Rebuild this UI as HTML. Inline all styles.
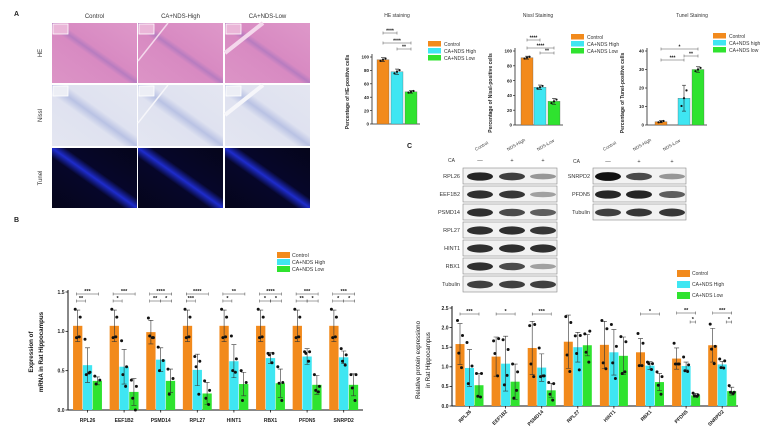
<!DOCTYPE html>
<html><head><meta charset="utf-8"><style>
html,body{margin:0;padding:0;background:#fff;}
svg{display:block;font-family:"Liberation Sans",Arial,sans-serif;}
</style></head><body>
<svg id="fig" width="777" height="442" viewBox="0 0 777 442" xmlns="http://www.w3.org/2000/svg">
<defs>
<linearGradient id="heBand" x1="0" y1="1" x2="1" y2="0"><stop offset="0" stop-color="#dc94c6"/><stop offset="0.45" stop-color="#d88ac2"/><stop offset="0.5" stop-color="#b77cc0"/><stop offset="0.55" stop-color="#d88ac2"/><stop offset="1" stop-color="#de98c9"/></linearGradient>
<linearGradient id="niBand" x1="0" y1="1" x2="1" y2="0"><stop offset="0" stop-color="#e4e6f1"/><stop offset="0.42" stop-color="#dfe2f0"/><stop offset="0.5" stop-color="#b9c2e4"/><stop offset="0.58" stop-color="#dfe2f0"/><stop offset="1" stop-color="#e4e6f1"/></linearGradient>
<linearGradient id="tuBand" x1="0" y1="1" x2="1" y2="0"><stop offset="0" stop-color="#05051a"/><stop offset="0.42" stop-color="#06062a"/><stop offset="0.5" stop-color="#1e2ccc"/><stop offset="0.58" stop-color="#06062a"/><stop offset="1" stop-color="#05051a"/></linearGradient>
</defs>
<g id="root"></g>
</svg>
<script>
// ---------- Panel A summary charts data ----------
const aGroups = ["Control","CA+NDS High","CA+NDS Low"];
const heVals = [96, 78, 48];
const heErr = [3, 4, 2];
const nisslVals = [91, 51, 32];
const nisslErr = [2, 3, 4];
const tunelVals = [1.8, 14.5, 30];
const tunelErr = [0.6, 7, 1.5];
const heTicks = [0,20,40,60,80,100];
const nisslTicks = [0,20,40,60,80,100];
const tunelTicks = [0,10,20,30,40];

// ---------- Panel B data ----------
const genes = ["RPL26","EEF1B2","PSMD14","RPL27","HINT1","RBX1","PFDN5","SNRPD2"];
const bControl = [1.07,1.07,0.99,1.07,1.07,1.07,1.07,1.07];
const bHigh = [0.57,0.55,0.64,0.51,0.62,0.66,0.68,0.67];
const bLow = [0.37,0.23,0.37,0.21,0.33,0.34,0.32,0.32];
const bControlErr = [0.2,0.2,0.15,0.2,0.2,0.2,0.2,0.2];
const bHighErr = [0.22,0.22,0.15,0.2,0.21,0.07,0.1,0.08];
const bLowErr = [0.05,0.17,0.15,0.14,0.15,0.18,0.12,0.14];
const bControlPts = [[1.28,1.18,0.92,0.93],[1.28,1.18,0.92,0.93],[1.17,0.92,0.94,0.92],[1.28,1.18,0.92,0.93],[1.28,1.18,0.92,0.93],[1.28,1.18,0.92,0.93],[1.28,1.18,0.92,0.93],[1.28,1.18,0.92,0.93]];
const bHighPts = [[0.9,0.48,0.45,0.47],[0.88,0.55,0.45,0.3],[0.8,0.63,0.5],[0.68,0.62,0.55,0.2],[0.94,0.65,0.5,0.48],[0.72,0.72,0.7,0.6],[0.74,0.74,0.72,0.62],[0.78,0.7,0.62,0.57]];
const bLowPts = [[0.43,0.38,0.33],[0.38,0.3,0.15,0.0],[0.52,0.4,0.2],[0.37,0.25,0.15,0.07],[0.5,0.35,0.12],[0.55,0.35,0.34,0.12],[0.45,0.3,0.25,0.23],[0.45,0.45,0.28,0.12]];
const bTicks = [0.0,0.5,1.0,1.5];
const bSigTop = ["***","***","****","****","**","****","***","***"];
const bSigOC = ["**","*","**","***","*","*","**","*"];
const bSigCG = ["","","*","","","*","*","*"];

// ---------- Panel C data ----------
const cControl = [1.58,1.26,1.48,1.64,1.56,1.37,1.21,1.55];
const cHigh = [0.97,1.08,0.98,1.50,1.37,1.03,1.02,1.06];
const cLow = [0.53,0.62,0.40,1.55,1.28,0.61,0.27,0.38];
const cControlErr = [0.52,0.5,0.68,0.68,0.6,0.35,0.27,0.43];
const cHighErr = [0.47,0.7,0.35,0.38,0.58,0.1,0.1,0.08];
const cLowErr = [0.3,0.45,0.18,0.27,0.48,0.22,0.05,0.1];
const cControlPts = [[2.18,1.8,1.35,0.98],[1.66,1.72,1.34,0.77],[2.05,2.08,1.07,0.75],[2.28,2.13,1.3,0.88],[2.18,1.97,1.1,0.95],[1.85,1.6,1.03,1.03],[1.6,1.07,1.07,1.07],[2.09,1.52,1.45,1.08]];
const cHighPts = [[1.62,1.02,0.57],[1.69,1.44,0.54,0.78],[1.48,0.77,0.75,0.77],[1.79,1.8,1.34,0.92],[2.08,1.52,1.1,0.7],[1.12,1.08,1.08,0.93],[1.25,1.05,0.9,0.88],[1.2,1.15,0.98,0.97]];
const cLowPts = [[0.83,0.83,0.25,0.23],[1.07,0.87,0.2,0.4],[0.6,0.57,0.3,0.15],[1.84,1.91,1.37,1.12],[1.77,1.64,0.83,0.87],[0.87,0.75,0.53,0.3],[0.33,0.28,0.26,0.25],[0.52,0.35,0.35,0.32]];
const cTicks = [0.0,0.5,1.0,1.5,2.0,2.5];
const cSigOG = ["***","*","***","","","*","**","***"];
const cSigCG = ["","","","","","","*","*"];

const OR="#f28a1c", CY="#3fe6f2", GR="#2fe32f";
const NS="http://www.w3.org/2000/svg";
const root=document.getElementById('root');
function el(tag,attrs,parent,text){const e=document.createElementNS(NS,tag);for(const k in attrs)e.setAttribute(k,attrs[k]);if(text!==undefined)e.textContent=text;(parent||root).appendChild(e);return e;}
function grp(name,parent){const g=el('g',{},parent);return g;}

// ---------- panel letters ----------
[["A",14,16],["B",14,222],["C",407,148]].forEach(p=>{const t=el('text',{x:p[1],y:p[2],'font-size':7,'font-weight':'bold',fill:'#222'},root,p[0]);});

// ---------- micrographs ----------
const micro=grp('micrograph-grid');
const colX=[52,138,225], colW=85, rowY=[23,85,148], rowH=[60,61,60];
const colNames=["Control","CA+NDS-High","CA+NDS-Low"];
const rowNames=["HE","Nissl","Tunel"], rowFill=["url(#heBand)","url(#niBand)","url(#tuBand)"];
colNames.forEach((n,i)=>{const t=el('text',{x:colX[i]+colW/2,y:18,'font-size':6,'text-anchor':'middle',fill:'#333'},micro,n);});
rowNames.forEach((n,r)=>{
  const t=el('text',{x:0,y:0,'font-size':6,'text-anchor':'middle',fill:'#333',transform:`translate(42,${rowY[r]+rowH[r]/2}) rotate(-90)`},micro,n);
  
  colX.forEach((x,c)=>{
    const rc=el('rect',{x:x,y:rowY[r],width:colW,height:rowH[r],fill:rowFill[r]},micro);
    
    if(r<2){el('rect',{x:x+1,y:rowY[r]+1,width:15,height:10,fill:r==0?'#eab6d8':'#eceef5',stroke:'#fff','stroke-width':0.8},micro);
      if(c>0) el('path',{d:`M${x+ (c==1?30:38)} ${rowY[r]} L${x} ${rowY[r]+(c==1?38:30)}`,stroke:r==0?'#f4d8ec':'#f6f6fa','stroke-width':c==1?1.5:4,fill:'none'},micro);}
  });
});

// ---------- generic small bar chart for panel A ----------
function smallChart(name,ax,base,top,maxV,ticks,vals,errs,barX,bw,title,titleX,ylab,legX,legY,legNames,sig){
  const g=grp(name);
  const y=v=>base-(v/maxV)*(base-top);
  const tt=el('text',{x:titleX,y:17,'font-size':5,'text-anchor':'middle',fill:'#333'},g,title);
  const yl=el('text',{x:0,y:0,'font-size':5,'text-anchor':'middle',fill:'#222','font-weight':'bold',transform:`translate(${ax-23},${base-32}) rotate(-90)`},g,ylab);
  el('line',{x1:ax,y1:base,x2:ax,y2:y(ticks[ticks.length-1])-3,stroke:'#222','stroke-width':0.8},g);
  el('line',{x1:ax,y1:base,x2:barX[2]+bw+3,y2:base,stroke:'#222','stroke-width':0.8},g);
  ticks.forEach(t=>{el('line',{x1:ax-2,y1:y(t),x2:ax,y2:y(t),stroke:'#222','stroke-width':0.7},g);
    const tl=el('text',{x:ax-3,y:y(t)+1.7,'font-size':4.5,'text-anchor':'end',fill:'#222','font-weight':'bold'},g,String(t));});
  const cols=[OR,CY,GR];
  vals.forEach((v,i)=>{
    const b=el('rect',{x:barX[i],y:y(v),width:bw,height:base-y(v),fill:cols[i],stroke:'#555','stroke-width':0.3},g);
    
    const cx=barX[i]+bw/2;
    el('line',{x1:cx,y1:y(v+errs[i]),x2:cx,y2:y(Math.max(0,v-errs[i])),stroke:'#222','stroke-width':0.6},g);
    el('line',{x1:cx-2,y1:y(v+errs[i]),x2:cx+2,y2:y(v+errs[i]),stroke:'#222','stroke-width':0.6},g);
    el('line',{x1:cx-2,y1:y(v-errs[i]),x2:cx+2,y2:y(v-errs[i]),stroke:'#222','stroke-width':0.6},g);
    [-2.5,0,2.5].forEach((d,k)=>el('circle',{cx:cx+d,cy:y(v+(k-1)*errs[i]*0.6),r:1.1,fill:'#111'},g));
  });
  legNames.forEach((n,i)=>{const r=el('rect',{x:legX,y:legY+i*7-4,width:13,height:5.5,fill:cols[i]},g);
    const t=el('text',{x:legX+16,y:legY+i*7+1,'font-size':5,fill:'#333'},g,n);});
  sig.forEach(s=>{const x1=barX[s[0]]+bw/2, x2=barX[s[1]]+bw/2, yy=s[2];
    el('path',{d:`M${x1} ${yy-1.5}L${x1} ${yy+1.5}M${x1} ${yy}L${x2} ${yy}M${x2} ${yy-1.5}L${x2} ${yy+1.5}`,stroke:'#555','stroke-width':0.5,fill:'none'},g);
    el('text',{x:(x1+x2)/2,y:yy-0.5,'font-size':5,'text-anchor':'middle',fill:'#111','font-weight':'bold'},g,s[3]);});
  return g;
}
smallChart('he-chart',372,124,57,100,heTicks,heVals,heErr,[377,391,405],12,'HE staining',397,'Percentage of HE-positive cells',428,45,["Control","CA+NDS High","CA+NDS Low"],[[0,1,33,"****"],[0,2,43,"****"],[1,2,49,"**"]]);
smallChart('nissl-chart',515,125,51,100,nisslTicks,nisslVals,nisslErr,[521,534,548],12,'Nissl Staining',538,'Percentage of Nissl-positive cells',571,38,["Control","CA+NDS High","CA+NDS Low"],[[0,1,40,"****"],[0,2,48,"****"],[1,2,53,"**"]]);
smallChart('tunel-chart',647,125,51,40,tunelTicks,tunelVals,tunelErr,[655,678,692],12,'Tunel Staining',692,'Percentage of Tunel-positive cells',713,37,["Control","CA+NDS high","CA+NDS low"],[[0,2,49,"*"],[0,1,60,"***"],[1,2,56,"**"]]);

// ---------- grouped bar chart ----------
function groupChart(name,ax,base,top,maxV,ticks,c0,c1,c2,e0,e1,e2,p0,p1,p2,firstCenter,step,bw,rotLabels,rightEnd){
  const g=grp(name);
  const y=v=>base-(v/maxV)*(base-top);
  el('line',{x1:ax,y1:base,x2:ax,y2:top-2,stroke:'#111','stroke-width':1},g);
  el('line',{x1:ax,y1:base,x2:rightEnd,y2:base,stroke:'#111','stroke-width':1},g);
  ticks.forEach(t=>{el('line',{x1:ax-2.5,y1:y(t),x2:ax,y2:y(t),stroke:'#111','stroke-width':0.8},g);
    const tl=el('text',{x:ax-3.5,y:y(t)+1.8,'font-size':5,'text-anchor':'end',fill:'#222','font-weight':'bold'},g,t.toFixed(1));});
  const sets=[[c0,e0,p0,OR],[c1,e1,p1,CY],[c2,e2,p2,GR]];
  genes.forEach((gn,i)=>{
    const cxC=firstCenter+i*step;
    el('line',{x1:cxC,y1:base,x2:cxC,y2:base+2.5,stroke:'#111','stroke-width':0.8},g);
    let lab;
    if(rotLabels) lab=el('text',{x:0,y:0,'font-size':5,'text-anchor':'end',fill:'#222','font-weight':'bold',transform:`translate(${cxC+2},${base+6}) rotate(-45)`},g,gn);
    else lab=el('text',{x:cxC,y:base+12,'font-size':5,'text-anchor':'middle',fill:'#222','font-weight':'bold'},g,gn);
    
    sets.forEach(([vals,errs,pts,col],k)=>{
      const x=cxC-bw*1.5+k*bw+(k-1)*0.5, v=vals[i], cx=x+bw/2;
      const b=el('rect',{x:x,y:y(v),width:bw,height:base-y(v),fill:col},g);
      
      const hi=y(v+errs[i]), lo=y(Math.max(0,v-errs[i]));
      el('path',{d:`M${cx} ${hi}L${cx} ${lo}M${cx-2.5} ${hi}L${cx+2.5} ${hi}M${cx-2.5} ${lo}L${cx+2.5} ${lo}`,stroke:'#333','stroke-width':0.6,fill:'none'},g);
      pts[i].forEach((p,j)=>{const d=[-2.5,2.5,-1.2,1.5][j]||0;el('circle',{cx:cx+d,cy:y(p),r:1.5,fill:'#111'},g);});
    });
  });
  return {g,y};
}
function bracket(g,x1,x2,yy,txt){
  el('path',{d:`M${x1} ${yy-1.5}L${x1} ${yy+1.5}M${x1} ${yy}L${x2} ${yy}M${x2} ${yy-1.5}L${x2} ${yy+1.5}`,stroke:'#444','stroke-width':0.5,fill:'none'},g);
  el('text',{x:(x1+x2)/2,y:yy-0.8,'font-size':5.5,'text-anchor':'middle',fill:'#111','font-weight':'bold'},g,txt);
}

// Panel B
const B=groupChart('mrna-chart',68,410,292,1.5,bTicks,bControl,bHigh,bLow,bControlErr,bHighErr,bLowErr,bControlPts,bHighPts,bLowPts,87.5,36.6,9.3,false,363);
genes.forEach((gn,i)=>{const c=87.5+i*36.6;
  bracket(B.g,c-11,c+11,294,bSigTop[i]);
  if(bSigCG[i]){bracket(B.g,c-11,c,301,bSigOC[i]);bracket(B.g,c,c+11,301,bSigCG[i]);}
  else bracket(B.g,c-11,c-2,301,bSigOC[i]);});
{const t=el('text',{x:0,y:0,'font-size':6.2,'text-anchor':'middle',fill:'#111','font-weight':'bold',transform:'translate(33,352) rotate(-90)'},B.g,'Expression of');
 const t2=el('text',{x:0,y:0,'font-size':6.2,'text-anchor':'middle',fill:'#111','font-weight':'bold',transform:'translate(43,352) rotate(-90)'},B.g,'mRNA in Rat Hippocampus');}
["Control","CA+NDS High","CA+NDS Low"].forEach((n,i)=>{const r=el('rect',{x:277,y:252+i*7,width:13,height:6,fill:[OR,CY,GR][i]},B.g);
  const t=el('text',{x:292,y:257+i*7,'font-size':5.2,fill:'#333'},B.g,n);});

// Panel C chart
const C=groupChart('protein-chart',452,406,308,2.5,cTicks,cControl,cHigh,cLow,cControlErr,cHighErr,cLowErr,cControlPts,cHighPts,cLowPts,469.5,36.1,9,true,738);
genes.forEach((gn,i)=>{const c=469.5+i*36.1;
  if(cSigOG[i]) bracket(C.g,c-9.5,c+9.5,cSigCG[i]?313:314,cSigOG[i]);
  if(cSigCG[i]) bracket(C.g,c+4,c+9.5,322,cSigCG[i]);});
{const t=el('text',{x:0,y:0,'font-size':6.2,'text-anchor':'middle',fill:'#111',transform:'translate(420,360) rotate(-90)'},C.g,'Relative protein expressiono');
 const t2=el('text',{x:0,y:0,'font-size':6.2,'text-anchor':'middle',fill:'#111',transform:'translate(430,360) rotate(-90)'},C.g,'in Rat Hippocampus');}
["Control","CA+NDS High","CA+NDS Low"].forEach((n,i)=>{const r=el('rect',{x:677,y:270+i*11,width:13,height:7,fill:[OR,CY,GR][i]},C.g);
  const t=el('text',{x:692,y:275+i*11,'font-size':5,fill:'#333'},C.g,n);});

// ---------- Western blots ----------
function blot(name,x0,x1,labX,rowsY,labels,intens,lanes,caY,caX,headX){
  const g=grp(name);
  el('text',{x:caX,y:caY,'font-size':5,fill:'#333','text-anchor':'end'},g,'CA');
  ["—","+","+"].forEach((s,i)=>el('text',{x:lanes[i],y:caY,'font-size':5.5,'text-anchor':'middle',fill:'#333'},g,s));
  ["Control","NDS-High","NDS-Low"].forEach((s,i)=>{const t=el('text',{x:0,y:0,'font-size':4.5,fill:'#444',transform:`translate(${headX[i]},151) rotate(-30)`},g,s);});
  labels.forEach((lb,r)=>{const yy=rowsY[r], h=16;
    const box=el('rect',{x:x0,y:yy,width:x1-x0,height:h,fill:'#f2f2f2',stroke:'#888','stroke-width':0.6},g);
    
    const t=el('text',{x:labX,y:yy+10,'font-size':5.5,'text-anchor':'end',fill:'#333'},g,lb);
    lanes.forEach((lx,k)=>{const a=intens[r][k];el('ellipse',{cx:lx,cy:yy+h/2+0.5,rx:13,ry:2.2+2.2*a,fill:'#111','fill-opacity':0.15+0.85*a},g);});
  });
}
blot('blot-left',463,557,460,[168,186,204,222,240,258,276],["RPL26","EEF1B2","PSMD14","RPL27","HINT1","RBX1","Tubulin"],
  [[0.9,0.75,0.3],[0.85,0.8,0.25],[0.85,0.7,0.6],[0.85,0.85,0.8],[0.85,0.85,0.85],[0.85,0.7,0.25],[0.75,0.75,0.75]],[480,512,543],162,455,[476,508,538]);
blot('blot-right',593,686,590,[168,186,204],["SNRPD2","PFDN5","Tubulin"],
  [[1,0.7,0.3],[0.9,0.9,0.6],[0.75,0.8,0.8]],[608,639,672],163,580,[604,634,664]);
</script>
</body></html>
